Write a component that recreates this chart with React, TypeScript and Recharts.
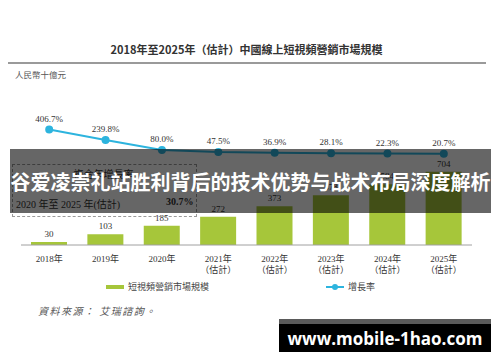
import { Bar, ComposedChart, LabelList, Line, XAxis, YAxis } from "recharts";

// values
const years = ["2018年", "2019年", "2020年", "2021年", "2022年", "2023年", "2024年", "2025年"];
const estimated = [false, false, false, true, true, true, true, true];
const marketSize = [30, 103, 185, 272, 373, 478, 584, 704];
const growthRate = [406.7, 239.8, 80.0, 47.5, 36.9, 28.1, 22.3, 20.7];

const data = years.map((year, i) => ({
  year,
  est: estimated[i],
  size: marketSize[i],
  rate: growthRate[i],
}));

const SERIF = "'Liberation Serif', 'Noto Sans CJK TC', serif";
const SANS = "'Noto Sans CJK TC', 'Noto Sans', sans-serif";
const BAR_COLOR = "#a6c63a";
const LINE_COLOR = "#2db4de";

const YearTick = (props: any) => {
  const { x, y, payload, index } = props;
  return (
    <g transform={`translate(${x},${y})`}>
      <text textAnchor="middle" dy={17} fontSize={9} fill="#333" style={{ fontFamily: SERIF }}>
        {payload.value}
      </text>
      {estimated[index] && (
        <text textAnchor="middle" dy={28} fontSize={9} fill="#333" style={{ fontFamily: SANS }}>
          （估計）
        </text>
      )}
    </g>
  );
};

const App = () => {
  return (
    <div style={{ position: "absolute", left: 0, top: 0, width: 500, height: 362, background: "#fff", overflow: "hidden" }}>
      <div
        style={{
          position: "absolute", left: 0, top: 40, width: 493, textAlign: "center",
          fontFamily: SANS, fontWeight: 700, fontSize: 11, color: "#333", lineHeight: "18px",
        }}
      >
        2018年至2025年（估計）中國線上短視頻營銷市場規模
      </div>
      <div style={{ position: "absolute", left: 8, top: 62, width: 478, height: 2, background: "#9a9a9a" }} />
      <div style={{ position: "absolute", left: 15, top: 68, fontFamily: SANS, fontSize: 8.5, color: "#555", lineHeight: "12px" }}>
        人民幣十億元
      </div>

      <div style={{ position: "absolute", left: 0, top: 0 }}>
        <ComposedChart width={500} height={362} data={data} margin={{ top: 100, right: 28, left: 21, bottom: 87 }}>
          <XAxis
            dataKey="year"
            height={30}
            tickLine={false}
            tickSize={0}
            tickMargin={0}
            axisLine={{ stroke: "#a0a0a0" }}
            tick={<YearTick />}
            interval={0}
          />
          <YAxis yAxisId="bar" hide domain={[0, 1394]} allowDataOverflow />
          <YAxis yAxisId="rate" hide domain={[-1440, 880]} allowDataOverflow />
          <Bar yAxisId="bar" dataKey="size" fill={BAR_COLOR} barSize={36} isAnimationActive={false}>
            <LabelList dataKey="size" position="top" offset={5} fontSize={9} fill="#333" style={{ fontFamily: SERIF }} />
          </Bar>
          <Line
            yAxisId="rate"
            dataKey="rate"
            stroke={LINE_COLOR}
            strokeWidth={2}
            dot={{ r: 3, fill: LINE_COLOR, stroke: LINE_COLOR }}
            isAnimationActive={false}
          >
            <LabelList
              dataKey="rate"
              position="top"
              offset={8}
              fontSize={9}
              fill="#333"
              style={{ fontFamily: SERIF }}
              formatter={(v: any) => `${Number(v).toFixed(1)}%`}
            />
          </Line>
        </ComposedChart>
      </div>

      {/* CAGR box */}
      <div style={{ position: "absolute", left: 12, top: 164, width: 183, height: 51, border: "1px dashed #9a9a9a" }} />
      <div style={{ position: "absolute", left: 12, top: 166, width: 183, textAlign: "center", fontFamily: SANS, fontSize: 10, color: "#333" }}>
        複合年增長率
      </div>
      <div style={{ position: "absolute", left: 16, top: 196, fontFamily: SERIF, fontSize: 10, color: "#333" }}>
        2020 年至 2025 年(估計)
      </div>
      <div style={{ position: "absolute", left: 166, top: 196, fontFamily: SERIF, fontSize: 10, fontWeight: 700, color: "#333" }}>
        30.7%
      </div>

      {/* legend */}
      <div style={{ position: "absolute", left: 106, top: 285, width: 18, height: 4, background: BAR_COLOR }} />
      <div style={{ position: "absolute", left: 128, top: 280, fontFamily: SANS, fontSize: 9, color: "#444", lineHeight: "13px" }}>
        短視頻營銷市場規模
      </div>
      <div style={{ position: "absolute", left: 326, top: 286, width: 18, height: 2, background: LINE_COLOR }} />
      <div style={{ position: "absolute", left: 332, top: 284, width: 6, height: 6, borderRadius: 3, background: LINE_COLOR }} />
      <div style={{ position: "absolute", left: 348, top: 280, fontFamily: SANS, fontSize: 9, color: "#444", lineHeight: "13px" }}>
        增長率
      </div>

      <div
        style={{
          position: "absolute", left: 38, top: 303, fontFamily: SANS, fontSize: 10, fontStyle: "italic",
          color: "#555", letterSpacing: 1.5, lineHeight: "15px",
        }}
      >
        資料來源： 艾瑞諮詢。
      </div>

      {/* overlay banner */}
      <div
        style={{
          position: "absolute", left: 10, top: 149, width: 481, height: 64, background: "rgba(0,0,0,0.6)",
          display: "flex", alignItems: "center", justifyContent: "center",
        }}
      >
        <span style={{ fontFamily: "'Noto Sans CJK SC', sans-serif", fontWeight: 700, fontSize: 20, color: "#fff", whiteSpace: "nowrap" }}>
          谷爱凌崇礼站胜利背后的技术优势与战术布局深度解析
        </span>
      </div>

      {/* watermark */}
      <div style={{ position: "absolute", left: 279, top: 319, width: 212, height: 33, background: "#000", borderTop: "5px solid #5a5a5a", boxSizing: "border-box" }} />
      <div
        style={{
          position: "absolute", left: 279, top: 324, width: 212, height: 28, display: "flex", alignItems: "center",
          justifyContent: "center", fontFamily: "'Open Sans', 'Noto Sans', sans-serif", fontWeight: 700, fontSize: 17, color: "#fff",
        }}
      >
        www.mobile-1hao.com
      </div>
    </div>
  );
};

export default App;
